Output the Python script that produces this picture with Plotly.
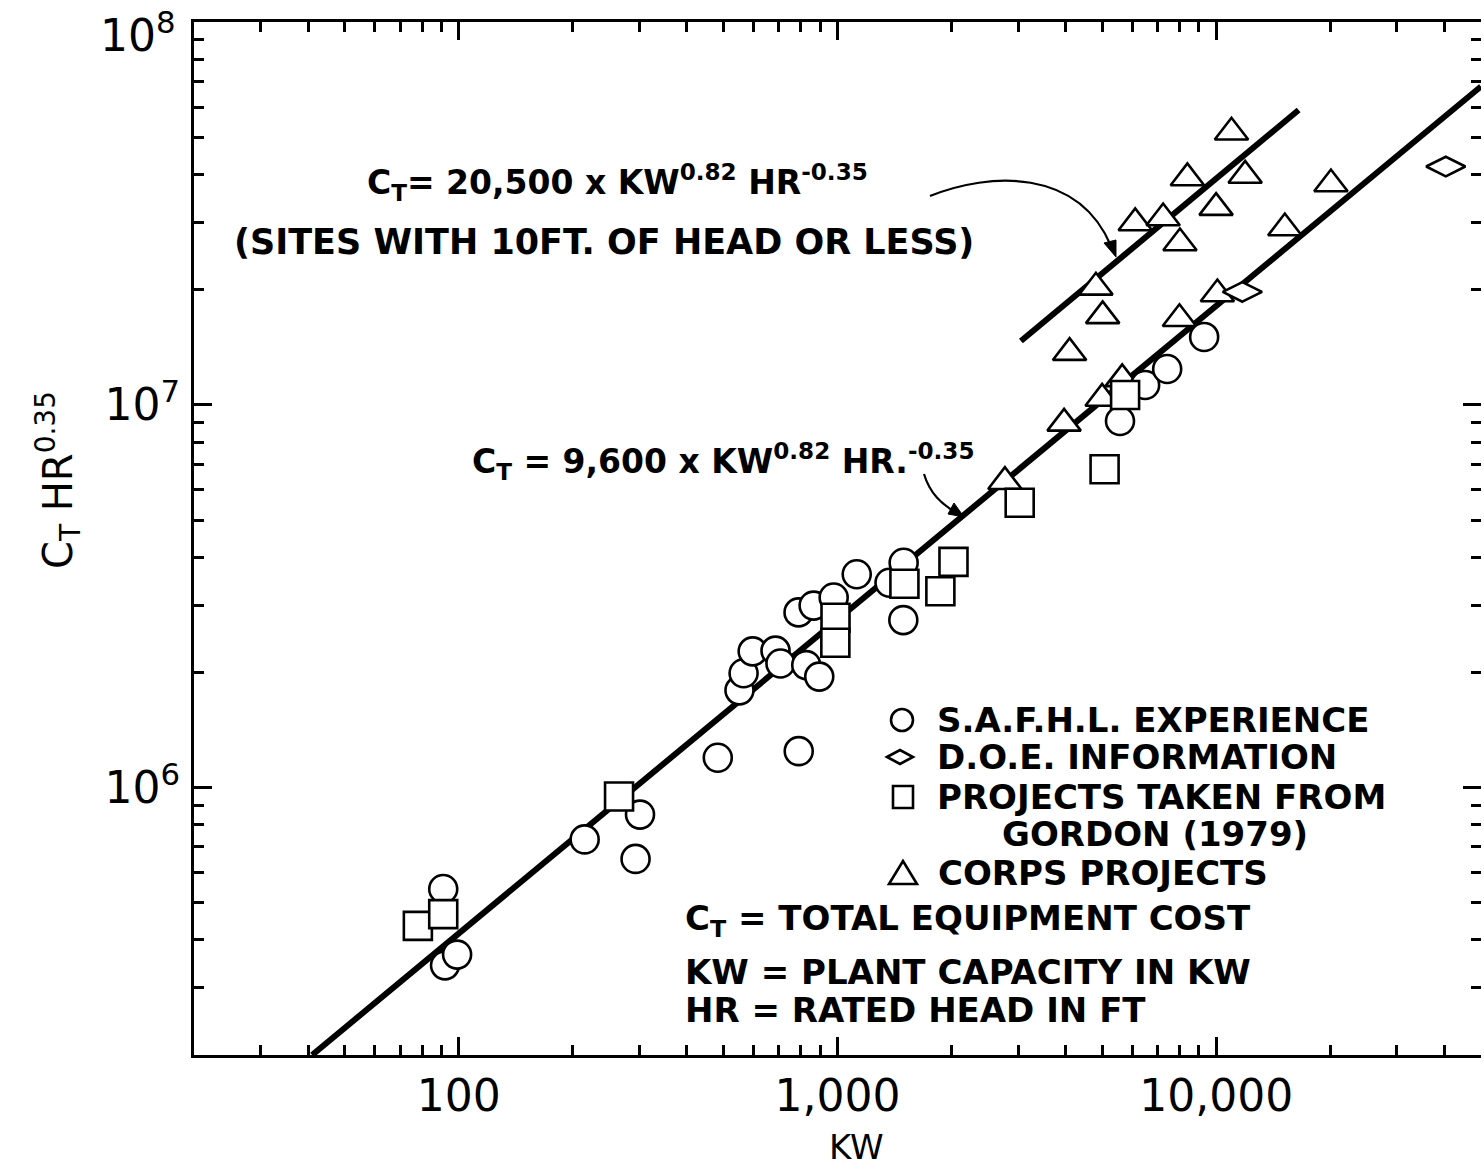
import math
import plotly.graph_objects as go

# ---------------- data ----------------
safhl_kw = [91, 92, 99, 215, 301, 293, 483, 790, 551, 565, 597, 686, 707, 827,
            895, 789, 865, 977, 1124, 1372, 1495, 1492, 5570, 6490, 7420, 9290]
safhl_cost = [5.43e5, 3.43e5, 3.66e5, 7.32e5, 8.5e5, 6.51e5, 1.197e6, 1.245e6,
              1.795e6, 1.99e6, 2.27e6, 2.28e6, 2.11e6, 2.09e6, 1.95e6, 2.87e6,
              2.99e6, 3.14e6, 3.61e6, 3.43e6, 3.87e6, 2.74e6, 9.08e6, 1.128e7,
              1.242e7, 1.506e7]

gordon_kw = [78, 91, 265, 988, 987, 1502, 1869, 2024, 3027, 5072, 5745]
gordon_cost = [4.35e5, 4.67e5, 9.48e5, 2.78e6, 2.39e6, 3.41e6, 3.26e6, 3.89e6,
               5.55e6, 6.79e6, 1.062e7]

corps_kw = [2767, 3965, 4997, 5645, 7995, 10070, 4100, 5013, 4812, 6110, 7240,
            8020, 8390, 9990, 10970, 11920, 15170, 20080]
corps_cost = [6.3e6, 8.95e6, 1.04e7, 1.17e7, 1.68e7, 1.95e7, 1.37e7, 1.71e7,
              2.03e7, 2.99e7, 3.08e7, 2.65e7, 3.92e7, 3.28e7, 5.16e7, 3.98e7,
              2.90e7, 3.78e7]

doe_kw = [11720, 40360]
doe_cost = [1.975e7, 4.2e7]

fit_all_kw = [41, 50000]
fit_all_cost = [2.0e5, 6.8e7]
fit_low_head_kw = [3050, 16500]
fit_low_head_cost = [1.47e7, 5.9e7]

x_tick_vals = [100, 1000, 10000]
x_tick_text = ["100", "1,000", "10,000"]
y_tick_vals = [1e6, 1e7, 1e8]
y_tick_text = ["10<sup>6</sup>", "10<sup>7</sup>", "10<sup>8</sup>"]

# ---------------- layout geometry ----------------
W, H = 1484, 1169
ML, MR, MT, MB = 194, 3, 22, 114
PW, PH = W - ML - MR, H - MT - MB
XR = [math.log10(20), math.log10(50000)]
YR = [math.log10(2e5), 8.001]


def px(xp):
    return (xp - ML) / PW


def py(yp):
    return (H - MB - yp) / PH


def pt(xp, yp):
    return f"{px(xp):.5f},{py(yp):.5f}"


minor_vals = [m * 10 ** e for e in range(1, 8) for m in range(2, 10)]

fig = go.Figure()

line_style = dict(color="black", width=6)
fig.add_trace(go.Scatter(x=fit_all_kw, y=fit_all_cost, mode="lines",
                         line=line_style, hoverinfo="skip"))
fig.add_trace(go.Scatter(x=fit_low_head_kw, y=fit_low_head_cost, mode="lines",
                         line=line_style, hoverinfo="skip"))

mk_line = dict(color="black", width=2.6)
fig.add_trace(go.Scatter(x=corps_kw, y=corps_cost, mode="markers",
                         name="CORPS PROJECTS",
                         marker=dict(symbol="triangle-up", size=29, color="white",
                                     line=mk_line)))
fig.add_trace(go.Scatter(x=safhl_kw, y=safhl_cost, mode="markers",
                         name="S.A.F.H.L. EXPERIENCE",
                         marker=dict(symbol="circle", size=28, color="white",
                                     line=mk_line)))
fig.add_trace(go.Scatter(x=gordon_kw, y=gordon_cost, mode="markers",
                         name="PROJECTS TAKEN FROM GORDON (1979)",
                         marker=dict(symbol="square", size=28, color="white",
                                     line=mk_line)))
# drawn against the right-hand (mirror) axis, which has the same range
fig.add_trace(go.Scatter(x=doe_kw, y=doe_cost, mode="markers", yaxis="y2",
                         name="D.O.E. INFORMATION",
                         marker=dict(symbol="diamond-wide", size=28, color="white",
                                     line=mk_line)))

tick_font = dict(family="DejaVu Sans", size=44, color="black")
common = dict(type="log", showgrid=False, zeroline=False, ticks="inside",
              ticklen=18, tickwidth=3, tickcolor="black", automargin=False,
              minor=dict(ticks="inside", ticklen=10, tickwidth=2.5,
                         tickcolor="black", tickmode="array",
                         tickvals=minor_vals, showgrid=False))

# the top label (10^8) is placed as an annotation so it stays inside the page
y_axis_text = y_tick_text[:-1] + [""]

fig.update_layout(
    width=W, height=H,
    margin=dict(l=ML, r=MR, t=MT, b=MB, autoexpand=False),
    plot_bgcolor="white", paper_bgcolor="white",
    showlegend=False,
    xaxis=dict(range=XR, showline=True, linewidth=3, linecolor="black",
               mirror="ticks", tickmode="array", tickvals=x_tick_vals,
               ticktext=x_tick_text, tickfont=tick_font,
               ticklabelstandoff=0, ticklabeloverflow="allow", **common),
    yaxis=dict(range=YR, showline=True, linewidth=3, linecolor="black",
               mirror=False, tickmode="array", tickvals=y_tick_vals,
               ticktext=y_axis_text, tickfont=tick_font,
               ticklabelstandoff=2, ticklabeloverflow="allow", **common),
    yaxis2=dict(range=YR, overlaying="y", side="right", anchor="x",
                showline=False, showticklabels=False, tickmode="array",
                tickvals=y_tick_vals, **common),
)

bold = dict(family="DejaVu Sans", size=34, color="black", weight="bold")
eq_font = dict(family="DejaVu Sans", size=33, color="black", weight="bold")

annots = [
    # equations
    dict(text="C<sub>T</sub>= 20,500 x KW<sup>0.82</sup> HR<sup>-0.35</sup>",
         x=px(365), y=py(182), font=eq_font),
    dict(text="(SITES WITH 10FT. OF HEAD OR LESS)",
         x=px(232), y=py(242), font=dict(bold, size=35)),
    dict(text="C<sub>T</sub> = 9,600 x KW<sup>0.82</sup> HR.<sup>-0.35</sup>",
         x=px(470), y=py(461), font=eq_font),
    # legend
    dict(text="S.A.F.H.L. EXPERIENCE", x=px(935), y=py(720), font=bold),
    dict(text="D.O.E. INFORMATION", x=px(935), y=py(757), font=bold),
    dict(text="PROJECTS TAKEN FROM", x=px(935), y=py(797), font=bold),
    dict(text="GORDON (1979)", x=px(1000), y=py(834), font=bold),
    dict(text="CORPS PROJECTS", x=px(936), y=py(873), font=bold),
    dict(text="C<sub>T</sub> = TOTAL EQUIPMENT COST", x=px(683), y=py(920),
         font=bold),
    dict(text="KW = PLANT CAPACITY IN KW", x=px(683), y=py(972), font=bold),
    dict(text="HR = RATED HEAD IN FT", x=px(683), y=py(1010), font=bold),
]
for a in annots:
    a.update(xref="paper", yref="paper", xanchor="left", yanchor="middle",
             showarrow=False)

# top y tick label
annots.append(dict(text=y_tick_text[-1], xref="paper", yref="paper",
                   x=px(178), y=py(2), xanchor="right", yanchor="top",
                   showarrow=False, font=tick_font))
# axis titles
annots.append(dict(text="KW", xref="paper", yref="paper", x=px(856), y=py(1147),
                   xanchor="center", yanchor="middle", showarrow=False,
                   font=dict(family="DejaVu Sans", size=34, color="black")))
annots.append(dict(text="C<sub>T</sub> HR<sup>0.35</sup>", xref="paper",
                   yref="paper", x=px(58), y=py(480), xanchor="center",
                   yanchor="middle", textangle=-90, showarrow=False,
                   font=dict(family="DejaVu Sans", size=40, color="black")))
fig.update_layout(annotations=annots)

shapes = []
blk = dict(color="black", width=2.6)
# legend symbols
shapes.append(dict(type="circle", xref="paper", yref="paper",
                   x0=px(891), x1=px(913), y0=py(731), y1=py(709), line=blk))
shapes.append(dict(type="path", xref="paper", yref="paper",
                   path=f"M{pt(887,757)} L{pt(900,750)} L{pt(913,757)} L{pt(900,764)} Z",
                   line=blk))
shapes.append(dict(type="rect", xref="paper", yref="paper",
                   x0=px(893), x1=px(913), y0=py(808), y1=py(786), line=blk))
shapes.append(dict(type="path", xref="paper", yref="paper",
                   path=f"M{pt(889,884)} L{pt(917,884)} L{pt(903,861)} Z",
                   line=blk))
# curved callout arrows
shapes.append(dict(type="path", xref="paper", yref="paper",
                   path=f"M{pt(930,196)} C{pt(990,172)} {pt(1078,168)} {pt(1111,246)}",
                   line=dict(color="black", width=2.2)))
shapes.append(dict(type="path", xref="paper", yref="paper",
                   path=f"M{pt(1116,257)} L{pt(1104,243)} L{pt(1116,240)} Z",
                   line=dict(color="black", width=1), fillcolor="black"))
shapes.append(dict(type="path", xref="paper", yref="paper",
                   path=f"M{pt(924,474)} C{pt(930,494)} {pt(942,504)} {pt(955,512)}",
                   line=dict(color="black", width=2.2)))
shapes.append(dict(type="path", xref="paper", yref="paper",
                   path=f"M{pt(964,517)} L{pt(948,514)} L{pt(954,503)} Z",
                   line=dict(color="black", width=1), fillcolor="black"))
fig.update_layout(shapes=shapes)

fig.write_html("out.html")
